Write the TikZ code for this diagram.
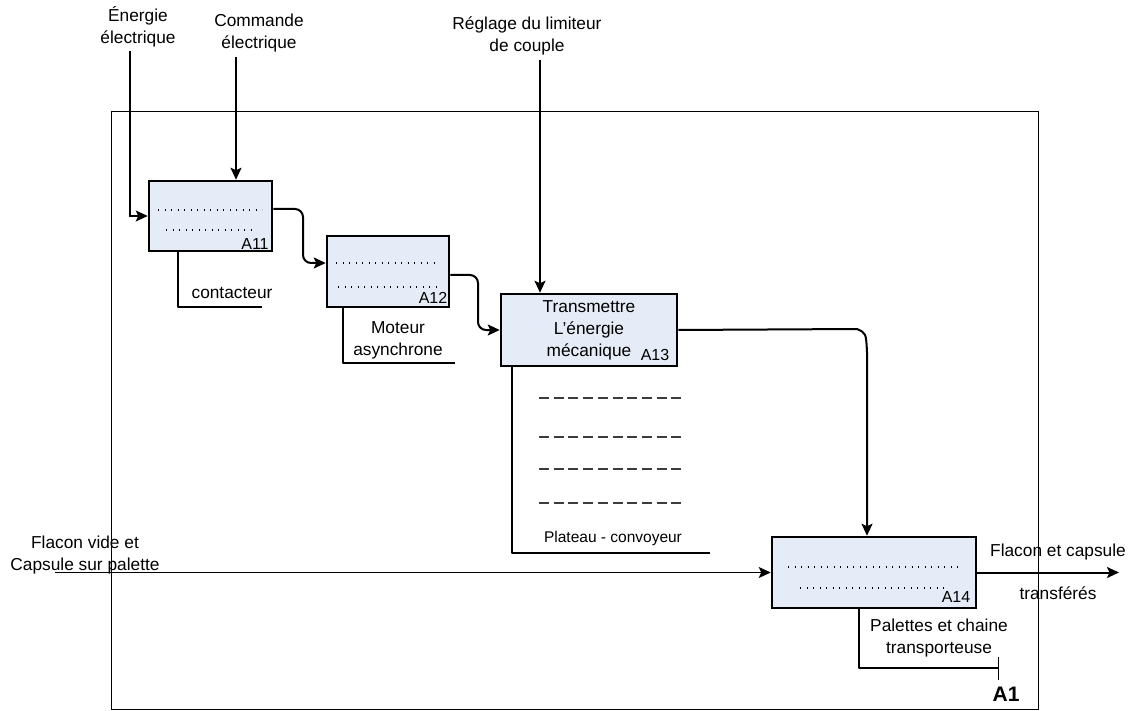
\documentclass[tikz,border=0pt]{standalone}
\usepackage{fontspec}
\setmainfont{Liberation Sans}
\usetikzlibrary{arrows.meta}
\definecolor{boxfill}{RGB}{230,236,247}
\definecolor{dashgray}{RGB}{60,60,60}
\tikzset{
  actbox/.style={draw=black, line width=2.5pt, fill=boxfill, inner sep=0pt},
  conn/.style={line width=2pt, line join=round},
  thinconn/.style={line width=1.4pt},
  arr/.style={-{Stealth[length=12pt,width=11pt,inset=2.5pt]}},
  lbl/.style={align=center, inner sep=0pt, font=\fontsize{17.3}{22}\selectfont},
  small/.style={inner sep=0pt, font=\fontsize{16}{18}\selectfont},
  dotrow/.style={line width=1.3pt, dash pattern=on 1.3pt off 5.2pt},
  dashrow/.style={line width=1.4pt, draw=dashgray, dash pattern=on 10pt off 4.7pt},
}
\begin{document}
\begin{tikzpicture}[x=1pt, y=-1pt]
\useasboundingbox (0,0) rectangle (1135,711);
% outer frame
\draw[line width=1pt] (111,112) rectangle (1038,709);

% activity boxes
\node[actbox, minimum width=123pt, minimum height=70pt] (a11) at (210.5,216) {};
\node[actbox, minimum width=122pt, minimum height=71pt] (a12) at (388,271.5) {};
\node[actbox, minimum width=176pt, minimum height=72pt] (a13) at (589,330) {};
\node[actbox, minimum width=204pt, minimum height=71pt] (a14) at (874,572.5) {};

% box contents
\draw[dotrow] (158,210) -- (262,210);
\draw[dotrow] (166,230) -- (256,230);
\node[small] (l11) at (255,244) {A11};
\draw[dotrow] (336,263) -- (439,263);
\draw[dotrow] (338,287) -- (438,287);
\node[small] (l12) at (433,298) {A12};
\node[lbl] (t13) at (589,330) {Transmettre\\L’énergie\\mécanique};
\node[small] (l13) at (655,355) {A13};
\draw[dotrow] (788,567) -- (961,567);
\draw[dotrow] (800,588) -- (948,588);
\node[small] (l14) at (956,597) {A14};

% top labels and inputs / controls
\node[lbl] (energ) at (138,27) {Énergie\\électrique};
\node[lbl] (cmd) at (259,33) {Commande\\électrique};
\node[lbl] (regl) at (527,36) {Réglage du limiteur\\de couple};
\coordinate (energtop) at (130,51);
\coordinate (cmdtop) at (236,57);
\coordinate (regltop) at (540,60);
\draw[thinconn, arr] (energtop) |- (a11.west);
\draw[conn, arr] (cmdtop) -- (cmdtop |- a11.north);
\draw[conn, arr] (regltop) -- (regltop |- a13.north);

% flows between boxes
\coordinate (o11) at ([yshift=7pt]a11.east);
\coordinate (i12) at ([yshift=8.5pt]a12.west);
\coordinate (k1) at (303,0);
\draw[conn, arr, rounded corners=8pt] (o11) -| (k1 |- i12) -- (i12);
\coordinate (o12) at ([yshift=-3.5pt]a12.east);
\coordinate (k2) at (478,0);
\draw[conn, arr, rounded corners=8pt] (o12) -| (k2 |- a13.west) -- (a13.west);
\coordinate (c14a) at (857,329);
\coordinate (c14b) at (866,333);
\coordinate (c14c) at (867,352);
\coordinate (c14) at (867,0);
\draw[conn, arr] (a13.east) -- (c14a) .. controls (c14b) .. (c14c) -- (c14 |- a14.north);

% main input and output
\node[lbl] (inlbl) at (85,555) {Flacon vide et\\Capsule sur palette};
\coordinate (instart) at (55,572.5);
\draw[thinconn, arr] (instart) -- (a14.west);
\coordinate (outend) at (1119,572.5);
\draw[conn, arr] (a14.east) -- (outend);
\node[lbl] (out1) at (1058,552) {Flacon et capsule};
\node[lbl] (out2) at (1058,593) {transférés};

% mechanisms
\coordinate (m11a) at (178,0);
\coordinate (m11b) at (262,307);
\draw[conn] (a11.south -| m11a) |- (m11b);
\node[lbl] (mt11) at (232,293) {contacteur};

\coordinate (m12a) at (343,0);
\coordinate (m12b) at (455,363);
\draw[conn] (a12.south -| m12a) |- (m12b);
\node[lbl] (mt12) at (398,340) {Moteur\\asynchrone};

\coordinate (m13a) at (512,0);
\coordinate (m13b) at (710,553);
\draw[conn] (a13.south -| m13a) |- (m13b);
\draw[dashrow] (539,398) -- (686,398);
\draw[dashrow] (539,437) -- (686,437);
\draw[dashrow] (539,469) -- (686,469);
\draw[dashrow] (539,503) -- (686,503);
\node[inner sep=0pt, font=\fontsize{15.5}{18}\selectfont] (mt13) at (613,538) {Plateau - convoyeur};

\coordinate (m14a) at (859,0);
\coordinate (m14b) at (998,668);
\draw[conn] (a14.south -| m14a) |- (m14b);
\coordinate (tk1) at (998,657);
\coordinate (tk2) at (998,680);
\draw[line width=1pt] (tk1) -- (tk2);
\node[lbl] (mt14) at (939,638) {Palettes et chaine\\transporteuse};
\node[inner sep=0pt, font=\bfseries\fontsize{21}{24}\selectfont] (a1) at (1006,694) {A1};
\end{tikzpicture}
\end{document}
